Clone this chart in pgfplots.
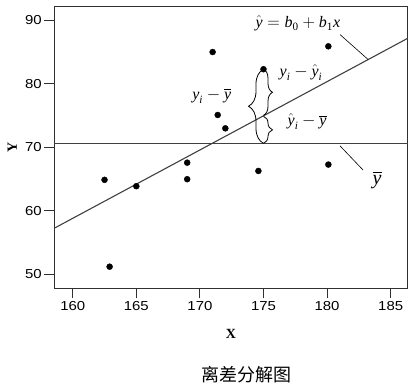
\documentclass[border=0pt]{standalone}
\usepackage{amsmath}
\usepackage{pgfplots}
\pgfplotsset{compat=1.18}
\usepackage{fontspec}
\setmainfont{Liberation Sans}
\newfontfamily\tickfont[FakeStretch=1.15]{Liberation Sans}
\newfontfamily\labfont{Liberation Serif}
\newfontfamily\cjk{Noto Sans CJK SC}
\usetikzlibrary{decorations.pathreplacing}
\definecolor{lncol}{HTML}{404040}
\definecolor{axcol}{HTML}{303030}
\newcommand{\ty}{\text{\labfont\itshape y}}
\newcommand{\tb}{\text{\labfont\itshape b}}
\newcommand{\tx}{\text{\labfont\itshape x}}
\newcommand{\ti}{\text{\labfont\itshape i}}
\newcommand{\tn}[1]{\text{\labfont #1}}

\begin{document}
\begin{tikzpicture}[x=1pt,y=1pt]
\useasboundingbox (0,0) rectangle (411,389);
\begin{axis}[
  at={(54.3pt,100.7pt)}, anchor=south west,
  scale only axis, width=353.4pt, height=282.3pt,
  xmin=158.55, xmax=186.34, ymin=47.8, ymax=92.2,
  xtick={160,165,170,175,180,185},
  ytick={50,60,70,80,90},
  xtick pos=bottom, ytick pos=left,
  tick align=outside, major tick length=10pt,
  tick style={axcol, line width=0.9pt},
  axis line style={axcol, line width=1pt},
  ticklabel style={font=\tickfont\fontsize{13}{15}\selectfont, text=black},
  /pgf/number format/assume math mode=true,
  xticklabel style={yshift=0pt},
  yticklabel style={xshift=1pt},
  xlabel={\labfont\bfseries X},
  ylabel={\labfont\bfseries Y},
  xlabel style={at={([yshift=-46pt]rel axis cs:0.5,0)}, anchor=center, font=\fontsize{14}{16}\selectfont},
  ylabel style={at={([xshift=-42pt]rel axis cs:0,0.5)}, anchor=center, font=\fontsize{14}{16}\selectfont},
  clip=false,
]
% regression line
\addplot[no marks, lncol, line width=1.1pt] coordinates {(158.55,57.25) (186.34,87.12)};
% mean line
\addplot[no marks, lncol, line width=1.1pt] coordinates {(158.55,70.6) (186.34,70.6)};
% data points
\addplot[only marks, mark=*, mark size=3pt, black] coordinates {
 (162.5,64.86) (165.0,63.86) (169.0,67.56) (169.0,64.96) (171.0,84.96) (171.4,75.06)
 (172.0,72.96) (175.0,82.26) (174.6,66.26) (180.1,85.86) (180.1,67.26) (162.9,51.2)
};
% braces
\draw[black, line width=0.8pt, decorate, decoration={brace, amplitude=15pt}]
  (axis cs:175,70.6) -- (axis cs:175,82.26);
\draw[black, line width=0.8pt, decorate, decoration={brace, amplitude=9pt}]
  (axis cs:175,82.26) -- (axis cs:175,75.0);
\draw[black, line width=0.8pt, decorate, decoration={brace, amplitude=9pt}]
  (axis cs:175,74.85) -- (axis cs:175,70.6);
% leader lines
\draw[black, line width=0.6pt] (axis cs:181.02,87.7) -- (axis cs:183.23,83.78);
\draw[black, line width=0.6pt] (axis cs:181.02,70.2) -- (axis cs:182.83,66.4);
% labels
\node[font=\fontsize{16}{19}\selectfont] at (axis cs:177.7,89.5) {$\hat{\ty}=\tb_{\tn{0}}+\tb_{\tn{1}}\tx$};
\node[font=\fontsize{20}{24}\selectfont] at (axis cs:183.94,64.8) {$\overline{\ty}$};
\node[font=\fontsize{16}{19}\selectfont] at (axis cs:170.94,78.1) {$\ty_{\ti}-\overline{\ty}$};
\node[font=\fontsize{16}{19}\selectfont] at (axis cs:177.95,81.7) {$\ty_{\ti}-\hat{\ty}_{\ti}$};
\node[font=\fontsize{16}{19}\selectfont] at (axis cs:178.43,74.0) {$\hat{\ty}_{\ti}-\overline{\ty}$};
\end{axis}
\node[font=\cjk\fontsize{18}{21}\selectfont] at (246,14) {离差分解图};
\end{tikzpicture}
\end{document}
